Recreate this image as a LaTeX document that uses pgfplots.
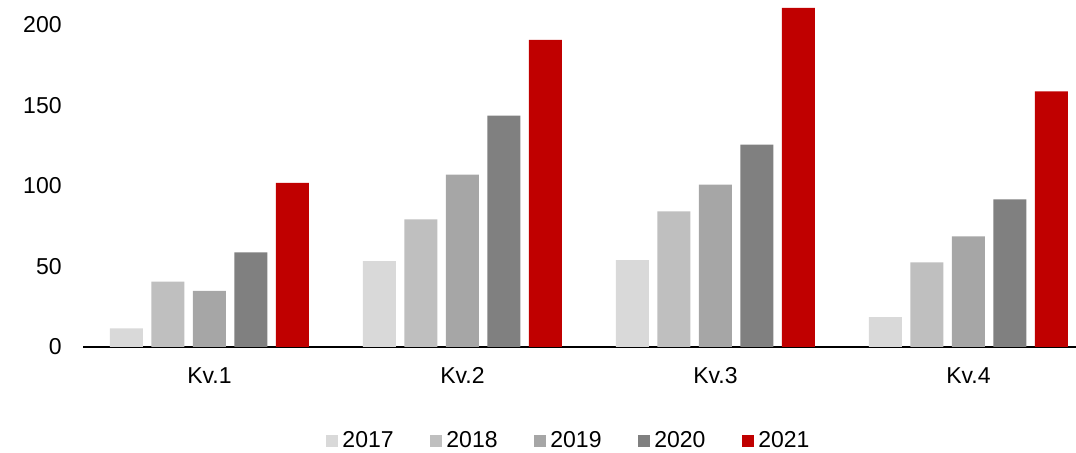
\documentclass[border=0pt]{standalone}
\usepackage{fontspec}
\setmainfont{Liberation Sans}
\usepackage{pgfplots}
\pgfplotsset{compat=1.18}
\definecolor{c17}{HTML}{D9D9D9}
\definecolor{c18}{HTML}{BFBFBF}
\definecolor{c19}{HTML}{A6A6A6}
\definecolor{c20}{HTML}{808080}
\definecolor{c21}{HTML}{C00000}
\newcommand{\lf}{\fontsize{11.5pt}{13pt}\selectfont}
\begin{document}
\begin{tikzpicture}
\path[use as bounding box] (0,0) rectangle (538pt,226.5pt);
\begin{axis}[
  at={(41.5pt,53pt)}, anchor=south west,
  scale only axis, width=496.5pt, height=169.85pt,
  xmin=-0.5, xmax=3.425, ymin=0, ymax=211,
  ybar=4.25pt, bar width=16.5pt,
  axis x line*=bottom, axis y line*=left,
  y axis line style={draw=none},
  x axis line style={black, line width=0.75pt, -},
  major tick length=0pt,
  xtick={0,1,2,3}, xticklabels={Kv.1,Kv.2,Kv.3,Kv.4},
  ytick={0,50,100,150,200},
  /pgf/number format/assume math mode=true,
  tick label style={font=\lf},
  yticklabel style={anchor=east, inner sep=0pt, xshift=-10.5pt},
  xticklabel style={anchor=north, inner sep=0pt, yshift=-10pt},
  legend columns=5,
  legend style={draw=none, font=\lf, at={(axis description cs:0.488,-0.2767)}, anchor=center,
    nodes={inner sep=0pt, anchor=west},
    /tikz/every odd column/.append style={column sep=2.4pt},
    /tikz/every even column/.append style={column sep=18pt}},
  legend image code/.code={\draw[#1,draw=none] (0pt,-3pt) rectangle (6pt,3pt);},
]
\addplot[fill=c17, draw=none] coordinates {(0,11.6) (1,53.3) (2,53.9) (3,18.6)};
\addplot[fill=c18, draw=none] coordinates {(0,40.6) (1,79.3) (2,84.2) (3,52.6)};
\addplot[fill=c19, draw=none] coordinates {(0,34.8) (1,107.1) (2,100.9) (3,68.7)};
\addplot[fill=c20, draw=none] coordinates {(0,58.8) (1,143.7) (2,125.7) (3,91.7)};
\addplot[fill=c21, draw=none] coordinates {(0,101.9) (1,190.7) (2,210.7) (3,158.8)};
\legend{2017,2018,2019,2020,2021}
\end{axis}
\end{tikzpicture}
\end{document}
